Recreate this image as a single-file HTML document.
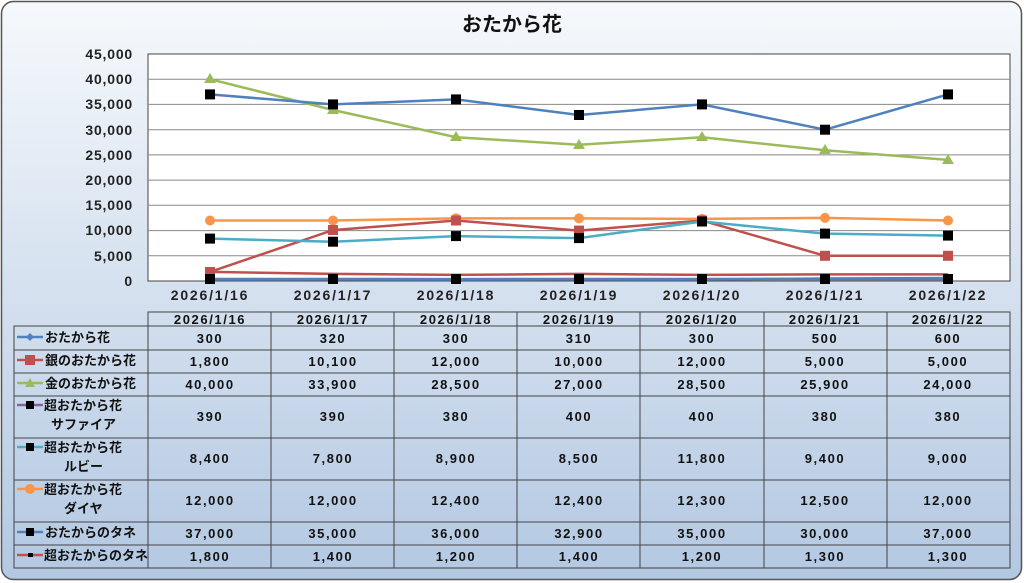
<html><body style="margin:0;width:1024px;height:583px;overflow:hidden;background:#fff">
<svg width="1024" height="583" xmlns="http://www.w3.org/2000/svg" font-family="'Liberation Sans','Noto Sans CJK JP',sans-serif">
<defs><linearGradient id="g" x1="0" y1="0" x2="0" y2="1"><stop offset="0" stop-color="#f6f9fc"/><stop offset="1" stop-color="#b3c8e2"/></linearGradient></defs>
<rect x="1.5" y="1.5" width="1020" height="578" rx="12" fill="url(#g)" stroke="#555" stroke-width="1.5"/>
<text x="512" y="31" text-anchor="middle" font-size="20" font-weight="bold" fill="#111">おたから花</text>
<rect x="148" y="54" width="862" height="227" fill="#fff" stroke="#444"/>
<g stroke="#888" stroke-width="1">
<line x1="148" x2="1010" y1="79.2" y2="79.2"/><line x1="148" x2="1010" y1="104.4" y2="104.4"/><line x1="148" x2="1010" y1="129.7" y2="129.7"/><line x1="148" x2="1010" y1="154.9" y2="154.9"/><line x1="148" x2="1010" y1="180.1" y2="180.1"/><line x1="148" x2="1010" y1="205.3" y2="205.3"/><line x1="148" x2="1010" y1="230.6" y2="230.6"/><line x1="148" x2="1010" y1="255.8" y2="255.8"/>
</g>
<g font-size="14" font-weight="bold" fill="#222" text-anchor="end" letter-spacing="0.8">
<text x="133" y="59">45,000</text><text x="133" y="84">40,000</text><text x="133" y="109">35,000</text><text x="133" y="135">30,000</text><text x="133" y="160">25,000</text><text x="133" y="185">20,000</text><text x="133" y="210">15,000</text><text x="133" y="235">10,000</text><text x="133" y="261">5,000</text><text x="133" y="286">0</text>
</g>
<g font-size="14" font-weight="bold" fill="#222" text-anchor="middle" letter-spacing="1.8">
<text x="210" y="300">2026/1/16</text><text x="333" y="300">2026/1/17</text><text x="456" y="300">2026/1/18</text><text x="579" y="300">2026/1/19</text><text x="702" y="300">2026/1/20</text><text x="825" y="300">2026/1/21</text><text x="948" y="300">2026/1/22</text>
</g>
<g fill="none" stroke-width="2.5">
<polyline stroke="#8064a2" points="210,279 333,279 456,279.1 579,279 702,279 825,279.1 948,279.1"/>
<polyline stroke="#4f81bd" points="210,279.5 333,279.4 456,279.5 579,279.4 702,279.5 825,278.5 948,278"/>
<polyline stroke="#c0504d" points="210,271.9 333,273.9 456,274.9 579,273.9 702,274.9 825,274.4 948,274.4"/>
<polyline stroke="#c0504d" points="210,271.9 333,230.1 456,220.5 579,230.6 702,220.5 825,255.8 948,255.8"/>
<polyline stroke="#4bacc6" points="210,238.6 333,241.7 456,236.1 579,238.1 702,221.5 825,233.6 948,235.6"/>
<polyline stroke="#f79646" points="210,220.5 333,220.5 456,218.4 579,218.4 702,218.9 825,217.9 948,220.5"/>
<polyline stroke="#9bbb59" points="210,79.2 333,110 456,137.2 579,144.8 702,137.2 825,150.3 948,159.9"/>
<polyline stroke="#4f81bd" points="210,94.4 333,104.4 456,99.4 579,115 702,104.4 825,129.7 948,94.4"/>
</g>
<g fill="#c0504d"><rect x="205" y="267" width="10" height="10"/></g>
<g fill="#f79646"><circle cx="210" cy="220.5" r="5"/><circle cx="333" cy="220.5" r="5"/><circle cx="456" cy="218.4" r="5"/><circle cx="579" cy="218.4" r="5"/><circle cx="702" cy="218.9" r="5"/><circle cx="825" cy="217.9" r="5"/><circle cx="948" cy="220.5" r="5"/></g>
<g fill="#c0504d"><rect x="328" y="225" width="10" height="10"/><rect x="451" y="215.5" width="10" height="10"/><rect x="574" y="225.6" width="10" height="10"/><rect x="697" y="215.5" width="10" height="10"/><rect x="820" y="250.8" width="10" height="10"/><rect x="943" y="250.8" width="10" height="10"/></g>
<g fill="#9bbb59"><path d="M210,73 l6,10 h-12z"/><path d="M333,104 l6,10 h-12z"/><path d="M456,131 l6,10 h-12z"/><path d="M579,139 l6,10 h-12z"/><path d="M702,131 l6,10 h-12z"/><path d="M825,144 l6,10 h-12z"/><path d="M948,154 l6,10 h-12z"/></g>
<g fill="#000">
<rect x="205" y="89.4" width="10" height="10"/><rect x="328" y="99.4" width="10" height="10"/><rect x="451" y="94.4" width="10" height="10"/><rect x="574" y="110" width="10" height="10"/><rect x="697" y="99.4" width="10" height="10"/><rect x="820" y="124.7" width="10" height="10"/><rect x="943" y="89.4" width="10" height="10"/>
<rect x="205" y="233.6" width="10" height="10"/><rect x="328" y="236.7" width="10" height="10"/><rect x="451" y="231.1" width="10" height="10"/><rect x="574" y="233.1" width="10" height="10"/><rect x="697" y="216.5" width="10" height="10"/><rect x="820" y="228.6" width="10" height="10"/><rect x="943" y="230.6" width="10" height="10"/>
<rect x="205" y="274" width="10" height="10"/><rect x="328" y="274" width="10" height="10"/><rect x="451" y="274" width="10" height="10"/><rect x="574" y="274" width="10" height="10"/><rect x="697" y="274" width="10" height="10"/><rect x="820" y="274" width="10" height="10"/><rect x="943" y="274" width="10" height="10"/>
</g>
<g stroke="#444" stroke-width="1" fill="none">
<rect x="148" y="312" width="862" height="14"/>
<rect x="14" y="326" width="996" height="242"/>
<line x1="14" x2="1010" y1="350" y2="350"/><line x1="14" x2="1010" y1="373" y2="373"/><line x1="14" x2="1010" y1="396" y2="396"/><line x1="14" x2="1010" y1="438" y2="438"/><line x1="14" x2="1010" y1="480" y2="480"/><line x1="14" x2="1010" y1="522" y2="522"/><line x1="14" x2="1010" y1="545" y2="545"/>
<line x1="148" x2="148" y1="312" y2="568"/><line x1="271" x2="271" y1="312" y2="568"/><line x1="394" x2="394" y1="312" y2="568"/><line x1="517" x2="517" y1="312" y2="568"/><line x1="640" x2="640" y1="312" y2="568"/><line x1="764" x2="764" y1="312" y2="568"/><line x1="887" x2="887" y1="312" y2="568"/>
</g>
<g font-size="13" font-weight="bold" fill="#111" text-anchor="middle" letter-spacing="1.6">
<text x="210" y="324">2026/1/16</text><text x="333" y="324">2026/1/17</text><text x="456" y="324">2026/1/18</text><text x="579" y="324">2026/1/19</text><text x="702" y="324">2026/1/20</text><text x="825" y="324">2026/1/21</text><text x="948" y="324">2026/1/22</text>
<g><text x="210" y="343">300</text><text x="333" y="343">320</text><text x="456" y="343">300</text><text x="579" y="343">310</text><text x="702" y="343">300</text><text x="825" y="343">500</text><text x="948" y="343">600</text></g>
<g><text x="210" y="366">1,800</text><text x="333" y="366">10,100</text><text x="456" y="366">12,000</text><text x="579" y="366">10,000</text><text x="702" y="366">12,000</text><text x="825" y="366">5,000</text><text x="948" y="366">5,000</text></g>
<g><text x="210" y="389">40,000</text><text x="333" y="389">33,900</text><text x="456" y="389">28,500</text><text x="579" y="389">27,000</text><text x="702" y="389">28,500</text><text x="825" y="389">25,900</text><text x="948" y="389">24,000</text></g>
<g><text x="210" y="421">390</text><text x="333" y="421">390</text><text x="456" y="421">380</text><text x="579" y="421">400</text><text x="702" y="421">400</text><text x="825" y="421">380</text><text x="948" y="421">380</text></g>
<g><text x="210" y="463">8,400</text><text x="333" y="463">7,800</text><text x="456" y="463">8,900</text><text x="579" y="463">8,500</text><text x="702" y="463">11,800</text><text x="825" y="463">9,400</text><text x="948" y="463">9,000</text></g>
<g><text x="210" y="505">12,000</text><text x="333" y="505">12,000</text><text x="456" y="505">12,400</text><text x="579" y="505">12,400</text><text x="702" y="505">12,300</text><text x="825" y="505">12,500</text><text x="948" y="505">12,000</text></g>
<g><text x="210" y="538">37,000</text><text x="333" y="538">35,000</text><text x="456" y="538">36,000</text><text x="579" y="538">32,900</text><text x="702" y="538">35,000</text><text x="825" y="538">30,000</text><text x="948" y="538">37,000</text></g>
<g><text x="210" y="561">1,800</text><text x="333" y="561">1,400</text><text x="456" y="561">1,200</text><text x="579" y="561">1,400</text><text x="702" y="561">1,200</text><text x="825" y="561">1,300</text><text x="948" y="561">1,300</text></g>
</g>
<g stroke-width="2.5">
<line x1="17" x2="43" y1="337" y2="337" stroke="#4f81bd"/><line x1="17" x2="43" y1="360" y2="360" stroke="#c0504d"/><line x1="17" x2="43" y1="383" y2="383" stroke="#9bbb59"/><line x1="17" x2="43" y1="405" y2="405" stroke="#8064a2"/><line x1="17" x2="43" y1="447" y2="447" stroke="#4bacc6"/><line x1="17" x2="43" y1="489" y2="489" stroke="#f79646"/><line x1="17" x2="43" y1="532" y2="532" stroke="#4f81bd"/><line x1="17" x2="43" y1="555" y2="555" stroke="#c0504d"/>
</g>
<path d="M30,333 l4,4 -4,4 -4,-4z" fill="#4f81bd"/>
<rect x="25" y="355" width="10" height="10" fill="#c0504d"/>
<path d="M30,378 l5,9 h-10z" fill="#9bbb59"/>
<rect x="26" y="401" width="8" height="8" fill="#000"/><rect x="26" y="443" width="8" height="8" fill="#000"/>
<circle cx="30" cy="489" r="5" fill="#f79646"/>
<rect x="26" y="528" width="8" height="8" fill="#000"/><rect x="28" y="553" width="5" height="4" fill="#000"/>
<g font-size="13" font-weight="bold" fill="#111">
<text x="45" y="342">おたから花</text><text x="45" y="365">銀のおたから花</text><text x="45" y="388">金のおたから花</text>
<text x="44" y="410">超おたから花</text><text x="51" y="429">サファイア</text>
<text x="44" y="452">超おたから花</text><text x="64" y="471">ルビー</text>
<text x="44" y="494">超おたから花</text><text x="64" y="513">ダイヤ</text>
<text x="45" y="537">おたからのタネ</text><text x="44" y="560">超おたからのタネ</text>
</g>
</svg>
</body></html>
